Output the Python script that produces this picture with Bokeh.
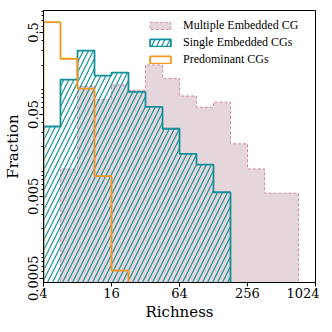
from bokeh.plotting import figure
from bokeh.models import FixedTicker, NumeralTickFormatter, Legend, LegendItem
from bokeh.embed import file_html
from bokeh.resources import INLINE

# Bin edges (richness), half-octave bins from 4 to 724
bin_edges = [4, 5.657, 8, 11.314, 16, 22.627, 32, 45.255, 64, 90.51,
             128, 181.02, 256, 362.04, 512, 724.08]

# Fraction per bin (0 = empty bin)
multiple_vals = [0, 0.0108, 0.110, 0.076, 0.114, 0.099, 0.201, 0.137,
                 0.084, 0.061, 0.0705, 0.0219, 0.0108, 0.00545, 0.00545]
single_vals = [0.0356, 0.133, 0.301, 0.149, 0.162, 0.094, 0.0616, 0.0334,
               0.0165, 0.0122, 0.0056, 0, 0, 0, 0]
predominant_vals = [0.668, 0.239, 0.103, 0.0088, 0.00062, 0, 0, 0,
                    0, 0, 0, 0, 0, 0, 0]

labels = ["Multiple Embedded CG", "Single Embedded CGs", "Predominant CGs"]
x_ticks = [4, 16, 64, 256, 1024]
y_ticks = [0.0005, 0.005, 0.05, 0.5]

FLOOR = 1e-9


def step_poly(edges, vals):
    xs, ys = [edges[0]], [FLOOR]
    for i, v in enumerate(vals):
        h = v if v > 0 else FLOOR
        xs += [edges[i], edges[i + 1]]
        ys += [h, h]
    xs.append(edges[len(vals)])
    ys.append(FLOOR)
    return xs, ys


p = figure(frame_width=272, frame_height=272, x_axis_type="log", y_axis_type="log",
           x_range=(4, 1024), y_range=(0.000443, 0.928),
           output_backend="svg", toolbar_location=None,
           min_border_left=43, min_border_right=4, min_border_top=10, min_border_bottom=30)

xm, ym = step_poly(bin_edges, multiple_vals)
r_m = p.patch(xm, ym, fill_color="#e4d6da", fill_alpha=1.0, line_color="#d48aa8",
              line_width=1, line_dash="3 2")
xs_, ys_ = step_poly(bin_edges, single_vals)
r_s = p.patch(xs_, ys_, fill_alpha=0, line_color="#13909a", line_width=1.8,
              hatch_pattern="/", hatch_color="#13909a", hatch_weight=1.2, hatch_scale=10)
xp, yp = step_poly(bin_edges, predominant_vals)
r_p = p.patch(xp, yp, fill_alpha=0, line_color="#f7961e", line_width=1.8)

minor = []
for k in range(-4, 1):
    for d in range(1, 10):
        v = d * 10 ** k
        if d != 5 and 0.000443 < v < 0.928:
            minor.append(v)

p.xaxis.ticker = FixedTicker(ticks=x_ticks, minor_ticks=[])
p.yaxis.ticker = FixedTicker(ticks=y_ticks, minor_ticks=minor)
p.xaxis.formatter = NumeralTickFormatter(format="0")
p.yaxis.formatter = NumeralTickFormatter(format="0.[0000]")
p.yaxis.major_label_orientation = "vertical"

for ax in [p.xaxis, p.yaxis]:
    ax.major_tick_out = 4
    ax.major_tick_in = 0
    ax.minor_tick_out = 2
    ax.minor_tick_in = 0
    ax.axis_line_color = "black"
    ax.major_tick_line_color = "black"
    ax.minor_tick_line_color = "black"
    ax.major_label_text_font = "DejaVu Serif"
    ax.major_label_text_font_size = "13px"
    ax.major_label_text_color = "black"
    ax.axis_label_text_font = "DejaVu Serif"
    ax.axis_label_text_font_size = "15px"
    ax.axis_label_text_font_style = "normal"
    ax.axis_label_text_color = "black"
    ax.major_label_standoff = 1
    ax.axis_label_standoff = 4

p.xaxis.axis_label_standoff = 2
p.xaxis.axis_label = "Richness"
p.yaxis.axis_label = "Fraction"
p.grid.visible = False
p.outline_line_color = "black"
p.outline_line_width = 1

legend = Legend(items=[LegendItem(label=labels[0], renderers=[r_m]),
                       LegendItem(label=labels[1], renderers=[r_s]),
                       LegendItem(label=labels[2], renderers=[r_p])],
                location=(98, 209), glyph_width=26, glyph_height=9,
                label_height=15, spacing=2, label_standoff=10, padding=6, margin=0,
                border_line_alpha=0, background_fill_alpha=0,
                label_text_font="Liberation Serif", label_text_font_size="12px",
                label_text_color="black")
p.add_layout(legend)

open("out.html", "w").write(file_html(p, INLINE))
